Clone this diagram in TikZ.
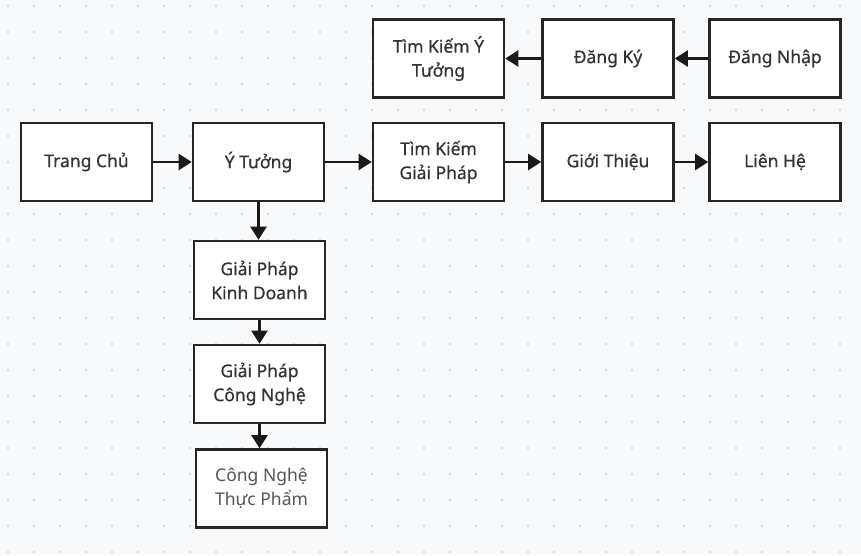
\documentclass[tikz,border=0pt]{standalone}
\usepackage{fontspec}
\setmainfont{Noto Sans}
\newfontfamily\boxfont[FakeBold=0.6]{Noto Sans}
\newfontfamily\lightfont{Noto Sans}
\usetikzlibrary{arrows.meta}
\definecolor{bg}{HTML}{F8F9FB}
\definecolor{dotc}{HTML}{D6D8DE}
\definecolor{txt}{HTML}{333333}
\definecolor{txtl}{HTML}{555555}
\tikzset{
  pagebox/.style={draw=black!85, line width=2.6pt, fill=white, minimum width=131pt, minimum height=78pt, inner sep=0pt, align=center, font=\boxfont\fontsize{17.5}{24}\selectfont, text=txt},
  lightbox/.style={pagebox, font=\lightfont\fontsize{17.5}{24}\selectfont, text=txtl},
  link/.style={draw=black!90, line width=2.2pt, -{Triangle[length=13pt,width=16pt]}}
}
\begin{document}
\begin{tikzpicture}[x=1pt,y=-1pt]
\fill[bg] (0,0) rectangle (861,555);
\useasboundingbox (0,0) rectangle (861,555);
\foreach \i in {0,...,33} {\foreach \j in {0,...,21} {
  \fill[dotc] ({8+26*\i},{6+26*\j}) circle (1.3pt);
}}
\node[pagebox] (home) at (86.5,162) {Trang Chủ};
\node[pagebox] (idea) at (258.5,162) {Ý Tưởng};
\node[pagebox] (findsol) at (438.5,162) {Tìm Kiếm\\Giải Pháp};
\node[pagebox] (about) at (608,162) {Giới Thiệu};
\node[pagebox] (contact) at (775,162) {Liên Hệ};
\node[pagebox] (findidea) at (438.5,58.5) {Tìm Kiếm Ý\\Tưởng};
\node[pagebox] (register) at (608,58.5) {Đăng Ký};
\node[pagebox] (login) at (775,58.5) {Đăng Nhập};
\node[pagebox] (biz) at (259.5,280) {Giải Pháp\\Kinh Doanh};
\node[pagebox] (tech) at (259.5,384) {Giải Pháp\\Công Nghệ};
\node[lightbox] (food) at (261.5,488.5) {Công Nghệ\\Thực Phẩm};
\draw[link] (home) -- (idea);
\draw[link] (idea) -- (findsol);
\draw[link] (findsol) -- (about);
\draw[link] (about) -- (contact);
\draw[link] (login) -- (register);
\draw[link] (register) -- (findidea);
\draw[link] (idea.south) -- (idea.south |- biz.north);
\draw[link] (biz) -- (tech);
\draw[link] (tech.south) -- (tech.south |- food.north);
\end{tikzpicture}
\end{document}
